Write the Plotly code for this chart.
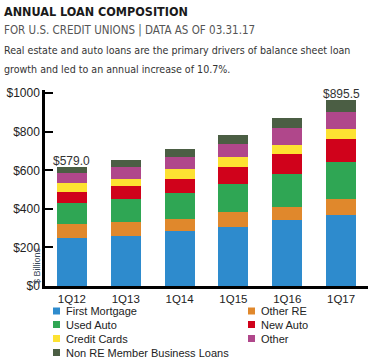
import plotly.graph_objects as go

quarters = ["1Q12", "1Q13", "1Q14", "1Q15", "1Q16", "1Q17"]
first_mortgage = [247, 258, 283, 304, 340, 371]
other_re = [76, 74, 67, 78, 72, 78]
used_auto = [110, 118, 135, 145, 171, 192]
new_auto = [57, 67, 72, 93, 104, 124]
credit_cards = [45, 38, 50, 48, 47, 50]
other = [50, 62, 60, 71, 84, 90]
non_re_mbl = [35, 35, 45, 47, 55, 62]
total_labels = ["$579.0", "", "", "", "", "$895.5"]

series_names = ["First Mortgage", "Other RE", "Used Auto", "New Auto",
                "Credit Cards", "Other", "Non RE Member Business Loans"]
series_values = [first_mortgage, other_re, used_auto, new_auto,
                 credit_cards, other, non_re_mbl]
series_colors = ["#2e8bcd", "#e0882c", "#2fa654", "#d0021b",
                 "#fde232", "#b0478b", "#4b5e44"]

y_ticks = [0, 200, 400, 600, 800, 1000]
y_tick_text = ["$0", "$200", "$400", "$600", "$800", "$1000"]

title_text = "ANNUAL LOAN COMPOSITION"
subtitle_text = "FOR U.S. CREDIT UNIONS | DATA AS OF 03.31.17"
body_lines = ["Real estate and auto loans are the primary drivers of balance sheet loan",
              "growth and led to an annual increase of 10.7%."]

W, H = 375, 364
L, R, T, B = 45, 7, 90, 78
PW, PH = W - L - R, H - T - B


def px(x):
    return (x - L) / PW


def py(y):
    return (H - B - y) / PH


fig = go.Figure()
for name, vals, col in zip(series_names, series_values, series_colors):
    fig.add_trace(go.Bar(x=quarters, y=vals, name=name, marker_color=col,
                         marker_line_width=0, showlegend=False))

totals = [sum(v) for v in zip(*series_values)]
annotations = []
for q, t, lab in zip(quarters, totals, total_labels):
    if lab:
        annotations.append(dict(x=q, y=t, text=lab, showarrow=False, yanchor="bottom",
                                xref="x", yref="y", yshift=-3,
                                font=dict(family="Liberation Sans, Arial", size=12, color="#333")))

narrow = "DejaVu Sans Condensed, DejaVu Sans, sans-serif"
annotations += [
    dict(x=px(2), y=py(12), xref="paper", yref="paper", xanchor="left", yanchor="middle",
         text="<b>" + title_text + "</b>", showarrow=False,
         font=dict(family=narrow, size=12.5, color="#1a1a1a")),
    dict(x=px(2), y=py(30), xref="paper", yref="paper", xanchor="left", yanchor="middle",
         text=subtitle_text, showarrow=False,
         font=dict(family=narrow, size=11.5, color="#555")),
    dict(x=px(2), y=py(50), xref="paper", yref="paper", xanchor="left", yanchor="middle",
         text=body_lines[0], showarrow=False,
         font=dict(family=narrow, size=10.6, color="#333")),
    dict(x=px(2), y=py(69), xref="paper", yref="paper", xanchor="left", yanchor="middle",
         text=body_lines[1], showarrow=False,
         font=dict(family=narrow, size=10.6, color="#333")),
    dict(x=px(37), y=py(266), xref="paper", yref="paper", xanchor="center", yanchor="middle",
         text="$ Billions", textangle=-90, showarrow=False,
         font=dict(family="Liberation Sans, Arial", size=9, color="#3a4a5a")),
]

# legend (two columns)
shapes = []
leg_cols = [53, 248]
leg_rows = [311, 324.5, 338.5, 352.5]
for i, (name, col) in enumerate(zip(series_names, series_colors)):
    cx = leg_cols[i % 2]
    cy = leg_rows[i // 2]
    shapes.append(dict(type="rect", xref="paper", yref="paper",
                       x0=px(cx), x1=px(cx + 7), y0=py(cy + 3.5), y1=py(cy - 3.5),
                       fillcolor=col, line_width=0))
    annotations.append(dict(x=px(cx + 11), y=py(cy), xref="paper", yref="paper",
                            xanchor="left", yanchor="middle", text=name, showarrow=False,
                            font=dict(family="Liberation Sans, Arial", size=11, color="#222")))

fig.update_layout(
    width=W, height=H,
    margin=dict(l=L, r=R, t=T, b=B, pad=0),
    paper_bgcolor="white", plot_bgcolor="white",
    barmode="stack", bargap=0.44,
    annotations=annotations, shapes=shapes,
    xaxis=dict(showline=True, linecolor="black", linewidth=2.5, ticks="",
               tickfont=dict(family="Liberation Sans, Arial", size=11.5, color="#222"),
               showgrid=False, zeroline=False),
    yaxis=dict(range=[0, 1017], tickvals=y_ticks, ticktext=y_tick_text,
               showline=True, linecolor="black", linewidth=2.5,
               ticks="inside", ticklen=8, tickwidth=2, tickcolor="black",
               tickfont=dict(family="Liberation Sans, Arial", size=12, color="#222"),
               showgrid=False, zeroline=False),
    showlegend=False,
)

fig.write_html("out.html", config={"displayModeBar": False},
               post_script="document.body.style.margin='0';document.body.style.overflow='hidden';")
